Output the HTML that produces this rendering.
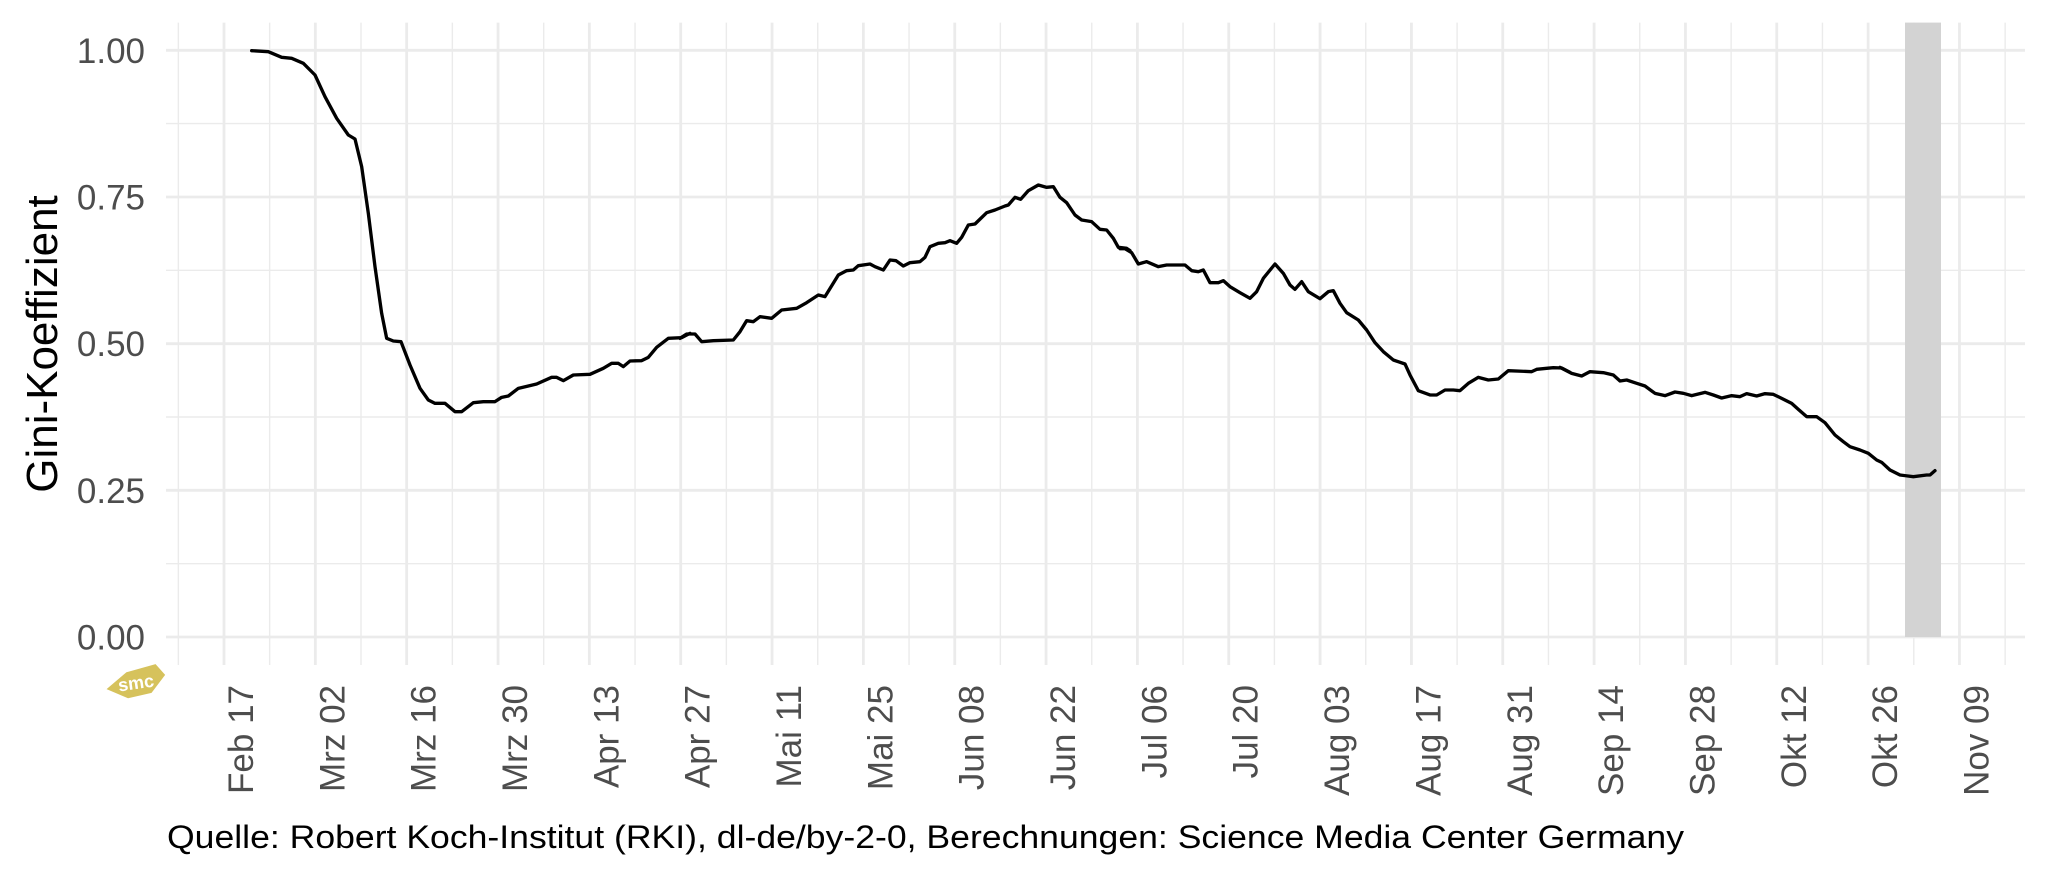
<!DOCTYPE html>
<html><head><meta charset="utf-8"><style>
html,body{margin:0;padding:0;background:#fff;}
svg{display:block;}
text{font-family:"Liberation Sans",Arial,sans-serif;}
</style></head><body>
<svg width="2048" height="878" viewBox="0 0 2048 878" xmlns="http://www.w3.org/2000/svg">
<rect width="2048" height="878" fill="#fff"/>
<g stroke="#ebebeb" stroke-width="1.4">
<line x1="166" x2="2025" y1="123.6" y2="123.6"/>
<line x1="166" x2="2025" y1="270.3" y2="270.3"/>
<line x1="166" x2="2025" y1="417" y2="417"/>
<line x1="166" x2="2025" y1="563.7" y2="563.7"/>
<line x1="178.33" x2="178.33" y1="22.6" y2="665"/>
<line x1="269.67" x2="269.67" y1="22.6" y2="665"/>
<line x1="361.01" x2="361.01" y1="22.6" y2="665"/>
<line x1="452.35" x2="452.35" y1="22.6" y2="665"/>
<line x1="543.69" x2="543.69" y1="22.6" y2="665"/>
<line x1="635.03" x2="635.03" y1="22.6" y2="665"/>
<line x1="726.37" x2="726.37" y1="22.6" y2="665"/>
<line x1="817.71" x2="817.71" y1="22.6" y2="665"/>
<line x1="909.05" x2="909.05" y1="22.6" y2="665"/>
<line x1="1000.39" x2="1000.39" y1="22.6" y2="665"/>
<line x1="1091.73" x2="1091.73" y1="22.6" y2="665"/>
<line x1="1183.07" x2="1183.07" y1="22.6" y2="665"/>
<line x1="1274.41" x2="1274.41" y1="22.6" y2="665"/>
<line x1="1365.75" x2="1365.75" y1="22.6" y2="665"/>
<line x1="1457.09" x2="1457.09" y1="22.6" y2="665"/>
<line x1="1548.43" x2="1548.43" y1="22.6" y2="665"/>
<line x1="1639.77" x2="1639.77" y1="22.6" y2="665"/>
<line x1="1731.11" x2="1731.11" y1="22.6" y2="665"/>
<line x1="1822.45" x2="1822.45" y1="22.6" y2="665"/>
<line x1="1913.79" x2="1913.79" y1="22.6" y2="665"/>
<line x1="2005.13" x2="2005.13" y1="22.6" y2="665"/>
</g>
<g stroke="#ebebeb" stroke-width="2.8">
<line x1="166" x2="2025" y1="50.3" y2="50.3"/>
<line x1="166" x2="2025" y1="197" y2="197"/>
<line x1="166" x2="2025" y1="343.7" y2="343.7"/>
<line x1="166" x2="2025" y1="490.3" y2="490.3"/>
<line x1="166" x2="2025" y1="637" y2="637"/>
<line x1="224" x2="224" y1="22.6" y2="665"/>
<line x1="315.34" x2="315.34" y1="22.6" y2="665"/>
<line x1="406.68" x2="406.68" y1="22.6" y2="665"/>
<line x1="498.02" x2="498.02" y1="22.6" y2="665"/>
<line x1="589.36" x2="589.36" y1="22.6" y2="665"/>
<line x1="680.7" x2="680.7" y1="22.6" y2="665"/>
<line x1="772.04" x2="772.04" y1="22.6" y2="665"/>
<line x1="863.38" x2="863.38" y1="22.6" y2="665"/>
<line x1="954.72" x2="954.72" y1="22.6" y2="665"/>
<line x1="1046.06" x2="1046.06" y1="22.6" y2="665"/>
<line x1="1137.4" x2="1137.4" y1="22.6" y2="665"/>
<line x1="1228.74" x2="1228.74" y1="22.6" y2="665"/>
<line x1="1320.08" x2="1320.08" y1="22.6" y2="665"/>
<line x1="1411.42" x2="1411.42" y1="22.6" y2="665"/>
<line x1="1502.76" x2="1502.76" y1="22.6" y2="665"/>
<line x1="1594.1" x2="1594.1" y1="22.6" y2="665"/>
<line x1="1685.44" x2="1685.44" y1="22.6" y2="665"/>
<line x1="1776.78" x2="1776.78" y1="22.6" y2="665"/>
<line x1="1868.12" x2="1868.12" y1="22.6" y2="665"/>
<line x1="1959.46" x2="1959.46" y1="22.6" y2="665"/>
</g>
<rect x="1905" y="22.6" width="36" height="614.4" fill="#d3d3d3"/>
<g fill="none" stroke="#000" stroke-width="10" stroke-linejoin="round" stroke-linecap="round">
<polyline transform="translate(240,40) scale(0.33333)" points="35,32 85,35 125,52 155,55 190,70 225,105 255,170 290,235 325,285 345,297 365,380 385,520 405,680 425,820 440,895 460,903 483,905 510,975 540,1045 565,1080 585,1090 615,1090 645,1115 665,1115 700,1088 730,1085 765,1085 785,1072 805,1068 835,1045 865,1038 890,1032 935,1012 950,1012 970,1022 1000,1005 1050,1003 1090,985 1115,970 1135,970 1150,980 1170,963 1205,962 1225,952 1250,922 1285,895 1325,893 1350,880"/>
<polyline transform="translate(680,140) scale(0.33333)" points="0,595 20,582 45,582 65,605 100,602 160,600 180,575 200,542 220,545 240,530 275,535 305,510 350,505 380,488 415,465 435,470 475,405 500,392 520,390 535,377 570,372 585,380 610,390 630,360 648,362 670,378 690,368 720,365 735,352 750,320 775,310 795,308 810,302 830,310 845,292 865,255 885,252 920,218 945,210 975,198 985,195 1005,172 1022,178 1045,152 1075,135 1100,142 1120,140 1140,172 1160,188 1185,225 1205,240 1235,245 1260,268 1280,270 1300,295 1315,322 1340,325 1350,332"/>
<polyline transform="translate(1120,140) scale(0.33333)" points="0,326 15,326 35,338 55,372 80,365 115,380 140,375 195,375 215,392 235,395 250,390 270,428 295,428 310,422 330,440 360,458 390,475 410,455 430,415 465,372 490,400 510,435 525,448 545,425 565,455 600,476 625,455 640,452 660,490 680,518 715,540 740,570 765,608 790,635 820,660 855,672 870,705 895,752 930,765 950,765 975,750 1000,750 1020,752 1045,730 1075,712 1105,720 1135,717 1165,692 1235,695 1250,688 1280,685 1300,683 1325,684 1350,697"/>
<polyline transform="translate(1560,300) scale(0.33333)" points="0,202 35,220 65,228 90,215 130,218 160,225 180,243 200,240 230,250 255,258 285,280 315,287 345,276 370,280 395,287 435,277 460,285 485,294 515,287 540,290 560,281 590,288 615,281 640,283 665,295 695,310 715,328 740,350 770,350 795,368 825,405 850,425 870,440 900,450 925,460 950,480 965,487 990,510 1020,525 1060,530 1100,525 1110,525 1125,512"/>
</g>
<g fill="#4d4d4d" font-size="35" text-anchor="end">
<text x="145" y="63">1.00</text>
<text x="145" y="209.5">0.75</text>
<text x="145" y="356">0.50</text>
<text x="145" y="503">0.25</text>
<text x="145" y="649.5">0.00</text>
</g>
<g fill="#4d4d4d" font-size="35" text-anchor="end">
<text transform="translate(253,685) rotate(-90)">Feb 17</text>
<text transform="translate(344.34,685) rotate(-90)">Mrz 02</text>
<text transform="translate(435.68,685) rotate(-90)">Mrz 16</text>
<text transform="translate(527.02,685) rotate(-90)">Mrz 30</text>
<text transform="translate(618.36,685) rotate(-90)">Apr 13</text>
<text transform="translate(709.7,685) rotate(-90)">Apr 27</text>
<text transform="translate(801.04,685) rotate(-90)">Mai 11</text>
<text transform="translate(892.38,685) rotate(-90)">Mai 25</text>
<text transform="translate(983.72,685) rotate(-90)">Jun 08</text>
<text transform="translate(1075.06,685) rotate(-90)">Jun 22</text>
<text transform="translate(1166.4,685) rotate(-90)">Jul 06</text>
<text transform="translate(1257.74,685) rotate(-90)">Jul 20</text>
<text transform="translate(1349.08,685) rotate(-90)">Aug 03</text>
<text transform="translate(1440.42,685) rotate(-90)">Aug 17</text>
<text transform="translate(1531.76,685) rotate(-90)">Aug 31</text>
<text transform="translate(1623.1,685) rotate(-90)">Sep 14</text>
<text transform="translate(1714.44,685) rotate(-90)">Sep 28</text>
<text transform="translate(1805.78,685) rotate(-90)">Okt 12</text>
<text transform="translate(1897.12,685) rotate(-90)">Okt 26</text>
<text transform="translate(1988.46,685) rotate(-90)">Nov 09</text>
</g>
<text transform="translate(57,344) rotate(-90)" text-anchor="middle" font-size="44" fill="#000">Gini-Koeffizient</text>
<text x="167" y="848" font-size="32" fill="#000" textLength="1517" lengthAdjust="spacingAndGlyphs">Quelle: Robert Koch-Institut (RKI), dl-de/by-2-0, Berechnungen: Science Media Center Germany</text>
<g transform="translate(136,683) rotate(-8)">
<polygon points="-30,2 -8,-12 22,-16 30,-4 14,12 -10,14" fill="#d6c25c"/>
<text x="0" y="6" text-anchor="middle" font-size="18" font-weight="bold" fill="#fff">smc</text>
</g>
</svg>
</body></html>
